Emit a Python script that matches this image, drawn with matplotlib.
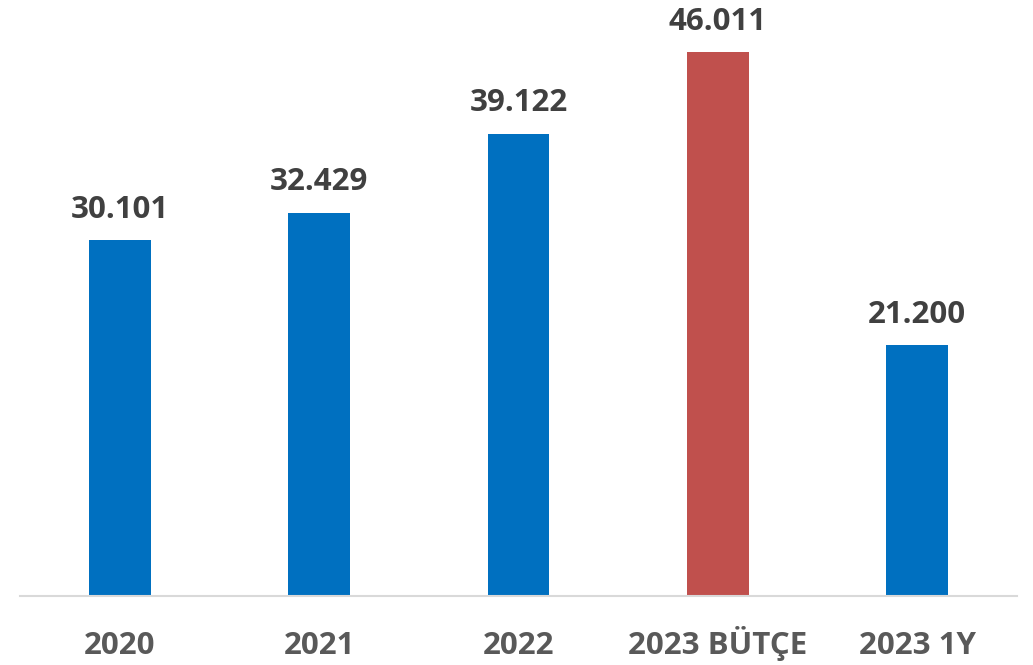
import matplotlib.pyplot as plt

categories = ['2020', '2021', '2022', '2023 BÜTÇE', '2023 1Y']
values = [30.101, 32.429, 39.122, 46.011, 21.200]
labels = ['30.101', '32.429', '39.122', '46.011', '21.200']
colors = ['#0070C0', '#0070C0', '#0070C0', '#C0504D', '#0070C0']

plt.rcParams['font.family'] = ['Open Sans', 'DejaVu Sans']

fig = plt.figure(figsize=(10.33, 6.65), dpi=100)
ax = fig.add_axes([20 / 1033, 69 / 665, 997 / 1033, 591 / 665])

x = range(len(categories))
ax.bar(x, values, width=0.31, color=colors, zorder=2)

for i, v in enumerate(values):
    ax.text(i, v + 1.3, labels[i], ha='center', va='bottom',
            fontsize=22.5, fontweight='bold', color='#404040')

ax.set_xlim(-0.5, 4.5)
ax.set_ylim(0, 50)
ax.set_xticks(list(x))
ax.set_xticklabels(categories, fontsize=22.5, fontweight='bold',
                   color='#595959', va='baseline')
ax.tick_params(axis='x', length=0, pad=42)
ax.set_yticks([])
for s in ['top', 'right', 'left']:
    ax.spines[s].set_visible(False)
ax.spines['bottom'].set_color('#D9D9D9')
ax.spines['bottom'].set_linewidth(1.5)

fig.savefig('out.png', dpi=100)
